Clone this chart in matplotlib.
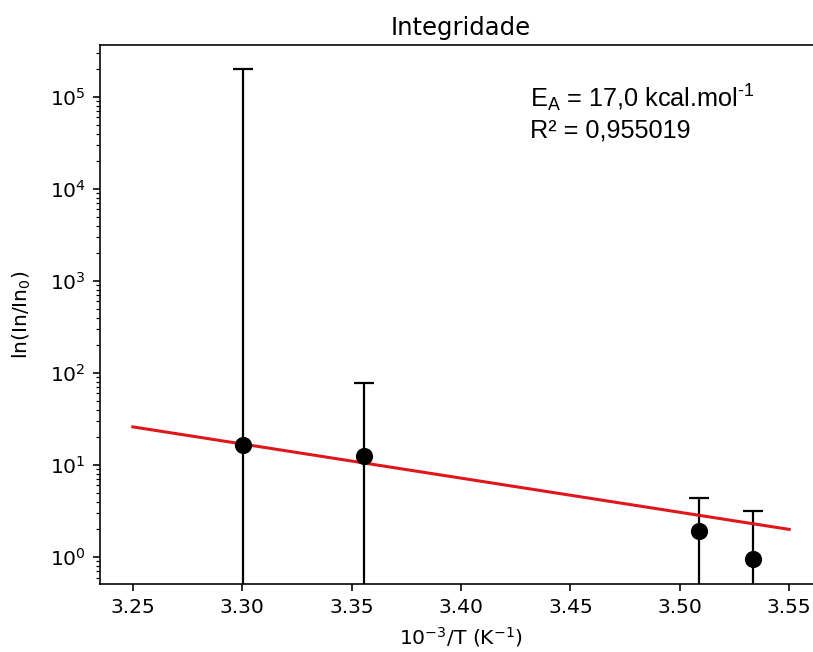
"""Arrhenius plot for integridade."""
import matplotlib
matplotlib.use("Agg")
import matplotlib.pyplot as plt

# data
inv_t = [3.3003, 3.3557, 3.5088, 3.5336]
ln_ratio = [16.5, 12.5, 1.9, 0.95]
ln_ratio_err = [2.0e5, 66.0, 2.45, 2.2]

fit_x = [3.25, 3.55]
fit_y = [26.0, 2.0]

ea_text = "E$_\\mathregular{A}$ = 17,0 kcal.mol$^\\mathregular{\u20101}$"
r2_text = "R² = 0,955019"

dpi = 145.7
fig = plt.figure(figsize=(813 / dpi, 652 / dpi), dpi=dpi)
ax = fig.add_axes([100 / 813, 68 / 652, 722 / 813, 539 / 652])

ax.errorbar(inv_t, ln_ratio, yerr=ln_ratio_err, fmt="o", color="black",
            markersize=7.5, elinewidth=1.1, capsize=5, capthick=1.1)
ax.plot(fit_x, fit_y, color="#e0161c", linewidth=1.5)

ax.set_yscale("log")
ax.set_xlim(3.235, 3.565)
ax.set_ylim(0.51, 3.67e5)
ax.set_xticks([3.25, 3.30, 3.35, 3.40, 3.45, 3.50, 3.55])
ax.spines["right"].set_visible(False)

ax.set_title("Integridade", pad=5)
ax.set_xlabel(r"10$^{-3}$/T (K$^{-1}$)")
ax.set_ylabel(r"ln(In/In$_0$)", labelpad=8)

ax.text(0.5956, 0.885, ea_text, transform=ax.transAxes, va="baseline",
        fontsize=12.5, family=["Liberation Sans", "DejaVu Sans"])
ax.text(0.5956, 0.8275, r2_text, transform=ax.transAxes, va="baseline",
        fontsize=12.5, family=["Liberation Sans", "DejaVu Sans"])

fig.savefig("out.png", dpi=dpi)
